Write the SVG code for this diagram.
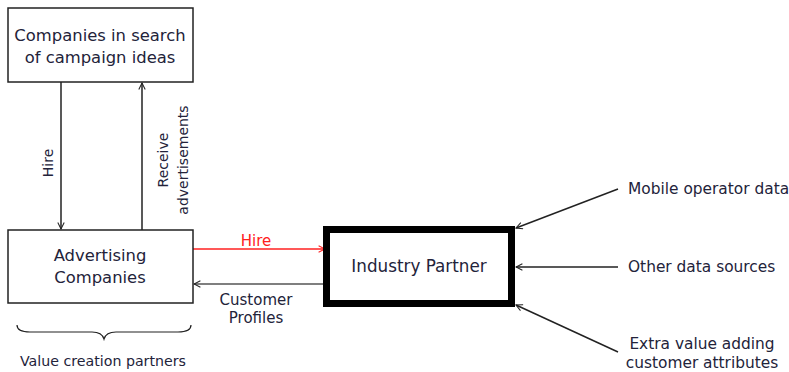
<svg xmlns="http://www.w3.org/2000/svg" width="789" height="372" viewBox="0 0 789 372">
  <style>
    text { font-family: "DejaVu Sans", "Liberation Sans", sans-serif; font-size: 15px; fill: #23233a; }
    .mid { text-anchor: middle; }
    .node { font-size: 16.4px; }
    .side { font-size: 15.4px; }
    .vert { font-size: 14px; }
    .box { fill: #ffffff; stroke: #222222; stroke-width: 1.5; }
    .line { fill: none; stroke: #222222; stroke-width: 1.5; }
  </style>
  <defs>
    <marker id="head" viewBox="0 0 10 10" refX="9" refY="5" markerWidth="8" markerHeight="8" markerUnits="userSpaceOnUse" orient="auto">
      <path d="M1,1 L9,5 L1,9" fill="none" stroke="#222222" stroke-width="1.3"/>
    </marker>
    <marker id="headRed" viewBox="0 0 10 10" refX="9" refY="5" markerWidth="8" markerHeight="8" markerUnits="userSpaceOnUse" orient="auto">
      <path d="M1,1 L9,5 L1,9" fill="none" stroke="#ff2020" stroke-width="1.3"/>
    </marker>
  </defs>

  <!-- connectors -->
  <g id="connectors">
    <line class="line" x1="61" y1="82" x2="61" y2="229" marker-end="url(#head)"/>
    <line class="line" x1="142" y1="230" x2="142" y2="83" marker-end="url(#head)"/>
    <line class="line" x1="193" y1="249" x2="325" y2="249" style="stroke:#ff2020" marker-end="url(#headRed)"/>
    <line class="line" x1="323" y1="284" x2="194" y2="284" style="stroke:#555555" marker-end="url(#head)"/>
    <line class="line" x1="618" y1="189" x2="516" y2="228" marker-end="url(#head)"/>
    <line class="line" x1="618" y1="267" x2="516" y2="267" marker-end="url(#head)"/>
    <line class="line" x1="618" y1="352" x2="516" y2="305" marker-end="url(#head)"/>
    <text transform="translate(53,163) rotate(-90)" class="mid vert">Hire</text>
    <text transform="translate(168,160) rotate(-90)" class="mid vert">Receive</text>
    <text transform="translate(188,160) rotate(-90)" class="mid vert">advertisements</text>
    <text x="256" y="246" class="mid" style="fill:#ff2020">Hire</text>
    <text x="256" y="305" class="mid">Customer</text>
    <text x="256" y="323" class="mid">Profiles</text>
  </g>

  <g id="campaign-companies">
    <rect class="box" x="8" y="8" width="185" height="74"/>
    <text x="100" y="41" class="mid node">Companies in search</text>
    <text x="100" y="63" class="mid node">of campaign ideas</text>
  </g>

  <g id="advertising-companies">
    <rect class="box" x="8" y="230" width="185" height="73"/>
    <text x="100" y="261" class="mid node">Advertising</text>
    <text x="100" y="283" class="mid node">Companies</text>
  </g>

  <g id="value-creation-partners">
    <path class="line" style="stroke-width:1.2" d="M17,325 Q17,332 30,332 L92,332 Q102,332 104,339 Q106,332 116,332 L178,332 Q191,332 191,325"/>
    <text x="103" y="366" class="mid" style="font-size:14.2px">Value creation partners</text>
  </g>

  <g id="industry-partner">
    <rect x="326.5" y="229.5" width="185" height="74" fill="#ffffff" stroke="#000000" stroke-width="7"/>
    <text x="419" y="272" class="mid" style="font-size:16.8px">Industry Partner</text>
  </g>

  <g id="mobile-operator-data">
    <text x="628" y="194" class="side">Mobile operator data</text>
  </g>

  <g id="other-data-sources">
    <text x="628" y="272" class="side">Other data sources</text>
  </g>

  <g id="extra-customer-attributes">
    <text x="702" y="349" class="mid side">Extra value adding</text>
    <text x="702" y="368" class="mid side">customer attributes</text>
  </g>
</svg>
